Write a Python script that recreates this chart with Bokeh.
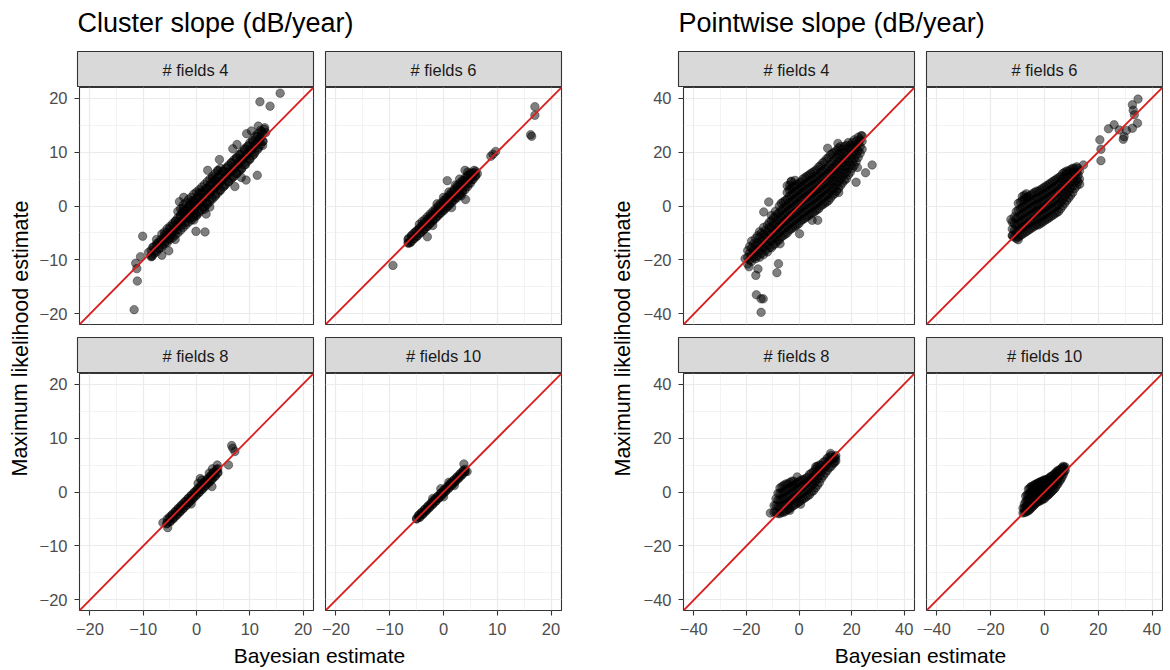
from bokeh.plotting import figure
from bokeh.layouts import row, column
from bokeh.models import Range1d, FixedTicker, Slope
from bokeh.core.properties import value
from bokeh.embed import file_html
from bokeh.resources import INLINE

FONT = "Liberation Sans"

# ---------------- data ----------------
group_titles = ["Cluster slope (dB/year)", "Pointwise slope (dB/year)"]
facet_labels = ["# fields 4", "# fields 6", "# fields 8", "# fields 10"]
x_label = "Bayesian estimate"
y_label = "Maximum likelihood estimate"
cluster_ticks = [-20, -10, 0, 10, 20]
cluster_minor = [-15, -5, 5, 15]
pointwise_ticks = [-40, -20, 0, 20, 40]
pointwise_minor = [-30, -10, 10, 30]
cluster_limit = 21.95
pointwise_limit = 43.9

# Cluster slope, # fields 4 (individual points + dense core by column x: [y...])
L1_pts = [(-9.0,-8.6),(-8.5,-9.2),(-8.2,-7.6),(-7.8,-8.3),(-7.4,-6.9),(-7.0,-7.8),(-6.7,-6.2),(-6.4,-7.2),
          (-6.0,-5.4),(-5.8,-6.6),(-5.5,-4.9),(-5.2,-6.0),(-5.0,-4.2),(-4.7,-5.5),(-4.4,-3.6),(-4.2,-4.8),
          (-3.9,-2.8),(-3.6,-4.4),(-3.4,-3.0),(-3.0,-1.8),(-2.8,-3.6),(-2.5,-2.2),(-2.2,-0.9),(-2.0,-3.0),
          (-1.7,-1.2),(-1.4,0.2),(-1.2,-2.2),(-0.9,-0.5),(-0.6,1.0),(-0.4,-1.6),(-0.1,0.3),(0.2,1.8),
          (0.4,-1.0),(0.7,0.9),(1.0,2.6),(1.2,-0.2),(1.5,1.6),(1.8,3.2),(2.0,0.6),(2.3,2.4),(2.6,4.0),
          (2.8,1.4),(3.1,3.2),(3.4,4.8),(3.6,2.1),(3.9,4.0),(4.2,5.6),(4.4,2.9),(4.7,4.7),(5.0,6.4),
          (5.2,3.7),(5.5,5.5),(5.8,7.2),(6.0,4.5),(6.3,6.3),(6.6,8.0),(6.8,5.3),(7.1,7.0),(7.4,8.8),
          (7.6,6.0),(7.9,7.8),(8.2,9.6),(8.4,6.8),(8.7,8.6),(9.0,10.4),(9.2,7.7),(9.5,9.4),(9.8,11.2),
          (10.0,8.6),(10.3,10.3),(10.6,12.0),(10.8,9.6),(11.1,11.3),(11.4,12.9),(11.6,10.8),(11.9,12.5),
          (12.2,13.8),(12.4,12.0),(12.7,14.2),(13.0,13.6),(-1.0,0.8),(0.0,-1.8),(0.5,2.4),(1.5,-0.6),
          (-2.5,-0.4),(3.0,5.2),(-0.5,-2.6),(2.5,-0.2),(-2.4,1.6),(-3.2,0.8),(4.0,6.5),(-4.0,-6.2),
          (15.7,20.9),(11.9,19.3),(13.8,18.5),(-11.7,-19.2),(-11.1,-13.9),(-11.2,-11.6),(-11.4,-10.6),
          (-10.5,-9.4),(-10.1,-5.6),(-0.1,-4.7),(1.6,-4.8),(11.4,5.7),(9.3,4.8),(8.4,5.3),(7.2,3.6),
          (4.3,8.6),(2.1,6.6),(12.4,11.2),(7.6,11.4),(6.8,10.6),(12.8,14.5),(11.6,14.8),(10.3,13.9),
          (9.4,13.4),(1.8,-1.5),(-2.7,-1.1),(-6.5,-9.1),(-5.2,-8.3),(-8.3,-9.3)]
L1_core = {-8.5: [-9.4, -8.2], -7.5: [-8.5, -7.2, -6.2], -6.5: [-7.6, -6.4, -5.2], -5.5: [-6.8, -5.5, -4.2],
           -4.5: [-5.9, -4.6, -3.3], -3.5: [-5.0, -3.6, -2.2, -1.0], -2.5: [-4.0, -2.6, -1.2, 0.2],
           -1.5: [-3.0, -1.6, -0.2, 1.2], -0.5: [-2.1, -0.6, 0.8, 2.2], 0.5: [-1.2, 0.4, 1.8, 3.0],
           1.5: [-0.2, 1.4, 2.8, 4.0], 2.5: [0.8, 2.4, 3.8, 5.0], 3.5: [1.8, 3.4, 4.8, 6.0],
           4.5: [2.9, 4.4, 5.8, 7.0], 5.5: [4.0, 5.5, 7.0], 6.5: [5.0, 6.6, 8.0], 7.5: [6.0, 7.6, 9.0],
           8.5: [7.0, 8.6, 10.0], 9.5: [8.2, 9.7, 11.0], 10.5: [9.3, 10.8, 12.2], 11.5: [10.5, 12.0, 13.4],
           12.5: [12.0, 13.4]}
L1_core_b = {-8: [-8.8, -7.6], -7: [-7.9, -6.7], -6: [-7.0, -5.8, -4.8], -5: [-6.2, -5.0, -3.8],
             -4: [-5.4, -4.1, -2.8], -3: [-4.5, -3.1, -1.7, -0.5], -2: [-3.5, -2.1, -0.7, 0.6],
             -1: [-2.6, -1.1, 0.3, 1.6], 0: [-1.6, -0.1, 1.3, 2.6], 1: [-0.7, 0.9, 2.3, 3.5],
             2: [0.3, 1.9, 3.3, 4.5], 3: [1.3, 2.9, 4.3, 5.5], 4: [2.4, 3.9, 5.3, 6.6],
             5: [3.5, 5.0, 6.5], 6: [4.5, 6.1, 7.5], 7: [5.5, 7.1, 8.5], 8: [6.5, 8.1, 9.5],
             9: [7.6, 9.2, 10.6], 10: [8.8, 10.3, 11.7], 11: [10.0, 11.5, 12.9], 12: [11.3, 12.7, 14.0]}

# Cluster slope, # fields 6
L2_pts = [(-6.6,-6.2),(-6.2,-6.8),(-5.9,-5.4),(-5.5,-6.1),(-5.2,-4.8),(-4.9,-5.6),(-4.6,-4.2),(-4.3,-5.0),
          (-4.0,-3.6),(-3.7,-4.4),(-3.4,-3.0),(-3.1,-3.8),(-2.8,-2.3),(-2.5,-3.2),(-2.2,-1.7),(-1.9,-2.6),
          (-1.6,-1.0),(-1.3,-2.0),(-1.0,-0.4),(-0.7,-1.4),(-0.4,0.2),(-0.1,-0.8),(0.2,0.9),(0.5,-0.2),
          (0.8,1.5),(1.1,0.4),(1.4,2.1),(1.7,1.0),(2.0,2.8),(2.3,1.6),(2.6,3.4),(2.9,2.2),(3.2,4.0),
          (3.5,2.8),(3.8,4.7),(4.1,3.5),(4.4,5.3),(4.7,4.2),(5.0,5.8),(5.3,4.9),(5.6,6.2),(5.9,5.5),
          (3.0,5.0),(4.5,6.3),(2.2,3.9),(1.0,2.6),(0.0,1.6),(-1.2,0.4),(1.5,-0.3),(3.3,1.9),(-2.0,-3.6),
          (17.0,18.4),(17.0,16.8),(16.2,13.2),(16.4,12.9),(9.7,10.1),(8.8,9.2),(9.2,9.6),(-9.4,-11.0),
          (-3.0,-5.7),(0.7,4.7),(4.1,1.2),(4.0,6.6),(5.7,6.6),(6.3,6.0),(-6.6,-6.8)]
L2_core = {-6: [-6.6, -5.6], -5: [-5.6, -4.6], -4: [-4.7, -3.7, -2.9], -3: [-3.8, -2.8, -2.0],
           -2: [-2.8, -1.8, -1.0], -1: [-1.8, -0.8, 0.0], 0: [-0.9, 0.1, 1.0], 1: [0.1, 1.1, 2.0],
           2: [1.1, 2.1, 3.1], 3: [2.0, 3.1, 4.2], 4: [3.0, 4.1, 5.2], 5: [4.2, 5.2, 6.1], 6: [5.6, 6.4]}
L2_core_b = {-6.5: [-6.9, -6.0], -5.5: [-6.0, -5.0], -4.5: [-5.1, -4.2, -3.4], -3.5: [-4.2, -3.3, -2.5],
             -2.5: [-3.3, -2.3, -1.5], -1.5: [-2.3, -1.3, -0.5], -0.5: [-1.3, -0.4, 0.5],
             0.5: [-0.4, 0.6, 1.5], 1.5: [0.6, 1.6, 2.6], 2.5: [1.5, 2.6, 3.7], 3.5: [2.5, 3.6, 4.7],
             4.5: [3.6, 4.7, 5.7], 5.5: [4.9, 5.9]}

# Cluster slope, # fields 8
L3_pts = [(-5.6,-5.9),(-5.2,-5.0),(-4.9,-5.5),(-4.6,-4.2),(-4.3,-4.9),(-4.0,-3.6),(-3.7,-4.3),(-3.4,-3.0),
          (-3.1,-3.7),(-2.8,-2.4),(-2.5,-3.1),(-2.2,-1.8),(-1.9,-2.5),(-1.6,-1.2),(-1.3,-1.9),(-1.0,-0.6),
          (-0.7,-1.3),(-0.4,0.0),(-0.1,-0.7),(0.2,0.6),(0.5,-0.1),(0.8,1.2),(1.1,0.5),(1.4,1.8),(1.7,1.1),
          (2.0,2.4),(2.3,1.7),(2.6,3.0),(2.9,2.3),(3.2,3.6),(3.5,2.9),(3.8,4.2),(4.0,3.5),(0.3,1.6),
          (1.0,2.2),(-1.0,-2.2),(2.4,3.5),(3.0,4.3),
          (6.6,8.6),(6.8,8.1),(7.2,7.5),(6.0,5.0),(3.9,5.0),(-6.3,-5.7),(-5.4,-6.6),(2.9,1.0),(0.7,2.5)]
L3_core = {-5.5: [-5.8, -5.0], -4.5: [-5.0, -4.2], -3.5: [-4.0, -3.2], -2.5: [-3.0, -2.2],
           -1.5: [-2.0, -1.2], -0.5: [-1.0, -0.2], 0.5: [0.0, 0.8], 1.5: [1.0, 1.8], 2.5: [2.0, 2.8],
           3.5: [3.0, 3.8]}
L3_core_b = {-5: [-5.4, -4.6], -4: [-4.5, -3.7], -3: [-3.5, -2.7], -2: [-2.5, -1.7], -1: [-1.5, -0.7],
             0: [-0.5, 0.3], 1: [0.5, 1.3], 2: [1.5, 2.3], 3: [2.5, 3.3], 4: [3.6, 4.3]}

# Cluster slope, # fields 10
L4_pts = [(-5.0,-5.0),(-4.7,-4.4),(-4.4,-4.7),(-4.1,-3.8),(-3.8,-4.1),(-3.5,-3.2),(-3.2,-3.5),(-2.9,-2.6),
          (-2.6,-2.9),(-2.3,-2.0),(-2.0,-2.3),(-1.7,-1.4),(-1.4,-1.7),(-1.1,-0.8),(-0.8,-1.1),(-0.5,-0.2),
          (-0.2,-0.5),(0.1,0.4),(0.4,0.1),(0.7,1.0),(1.0,0.7),(1.3,1.6),(1.6,1.3),(1.9,2.2),(2.2,1.9),
          (2.5,2.8),(2.8,2.5),(3.1,3.4),(3.4,3.1),(3.7,4.0),(4.0,3.7),(-2.0,-1.2),(-0.5,0.6),(1.0,1.8),
          (0.0,-0.9),(2.0,1.2),(3.8,5.2),(4.4,3.8),(-5.0,-4.9)]
L4_core = {-4.5: [-4.6, -4.2], -3.5: [-3.7, -3.3], -2.5: [-2.7, -2.3], -1.5: [-1.7, -1.3],
           -0.5: [-0.7, -0.3], 0.5: [0.3, 0.7], 1.5: [1.3, 1.7], 2.5: [2.3, 2.7], 3.5: [3.3, 3.7]}
L4_core_b = {-4: [-4.2, -3.8], -3: [-3.2, -2.8], -2: [-2.2, -1.8], -1: [-1.2, -0.8], 0: [-0.2, 0.2],
             1: [0.8, 1.2], 2: [1.8, 2.2], 3: [2.8, 3.2], 4: [3.8, 4.2]}

# Pointwise slope, # fields 4 (two interleaved column sets + outliers)
R1_core = {-19.5: [-21.5, -19, -16.5], -18: [-20.5, -18, -15.5, -13], -16.5: [-19.5, -17, -14.5, -12],
           -15: [-19, -16.5, -14, -11.5, -9.5], -13.5: [-18, -15.5, -13, -10.5, -8],
           -12: [-17, -14.5, -12, -9.5, -7], -10.5: [-15.5, -13, -10.5, -8, -5.5, -3.5],
           -9: [-14, -11.5, -9, -6.5, -4, -2], -7.5: [-12.5, -10, -7.5, -5, -2.5, 0],
           -6: [-11, -8.5, -6, -3.5, -1, 1.5], -4.5: [-10, -7.5, -5, -2.5, 0, 2.5, 5, 7.5],
           -3: [-8.5, -6, -3.5, -1, 1.5, 4, 6.5, 9], -1.5: [-7.5, -5, -2.5, 0, 2.5, 5, 7.5, 9.5],
           0: [-6.5, -4, -1.5, 1, 3.5, 6, 8.5], 1.5: [-5, -2.5, 0, 2.5, 5, 7.5, 10],
           3: [-4, -1.5, 1, 3.5, 6, 8.5, 11], 4.5: [-3, -0.5, 2, 4.5, 7, 9.5, 12],
           6: [-2, 0.5, 3, 5.5, 8, 10.5, 13], 7.5: [-1, 1.5, 4, 6.5, 9, 11.5, 14.5],
           9: [0.5, 3, 5.5, 8, 10.5, 13, 16], 10.5: [1.5, 4, 6.5, 9, 11.5, 14, 17.5],
           12: [3, 5.5, 8, 10.5, 13, 15.5, 19], 13.5: [4.5, 7, 9.5, 12, 14.5, 17, 20],
           15: [6.5, 9, 11.5, 14, 16.5, 19, 21.5], 16.5: [8.5, 11, 13.5, 16, 18.5, 21],
           18: [10, 12.5, 15, 17.5, 20, 22.5], 19.5: [12.5, 15, 17.5, 20, 22.5],
           21: [15, 17.5, 20, 22.5, 24.5], 22.5: [18, 20.5, 23, 25.5], 24: [21, 24, 26]}
R1_core_b = {-18.75: [-20, -17.5, -15], -17.25: [-19, -16.5, -14], -15.75: [-18.5, -16, -13.5, -11],
             -14.25: [-17.5, -15, -12.5, -10], -12.75: [-16.5, -14, -11.5, -9],
             -11.25: [-15.5, -13, -10.5, -8, -6], -9.75: [-14.5, -12, -9.5, -7, -4.5],
             -8.25: [-13, -10.5, -8, -5.5, -3], -6.75: [-11.5, -9, -6.5, -4, -1.5, 1],
             -5.25: [-10.5, -8, -5.5, -3, -0.5, 2], -3.75: [-9, -6.5, -4, -1.5, 1, 3.5, 6],
             -2.25: [-8, -5.5, -3, -0.5, 2, 4.5, 7], -0.75: [-7, -4.5, -2, 0.5, 3, 5.5, 8],
             0.75: [-5.5, -3, -0.5, 2, 4.5, 7, 9], 2.25: [-4.5, -2, 0.5, 3, 5.5, 8, 10.5],
             3.75: [-3.5, -1, 1.5, 4, 6.5, 9, 11.5], 5.25: [-2.5, 0, 2.5, 5, 7.5, 10, 12.5],
             6.75: [-1.5, 1, 3.5, 6, 8.5, 11, 13.5], 8.25: [0, 2.5, 5, 7.5, 10, 12.5, 15],
             9.75: [1, 3.5, 6, 8.5, 11, 13.5, 16.5], 11.25: [2, 4.5, 7, 9.5, 12, 14.5, 18],
             12.75: [4, 6.5, 9, 11.5, 14, 16.5, 19.5], 14.25: [5.5, 8, 10.5, 13, 15.5, 18, 20.5],
             15.75: [7.5, 10, 12.5, 15, 17.5, 20, 22], 17.25: [9.5, 12, 14.5, 17, 19.5, 22],
             18.75: [11.5, 14, 16.5, 19, 21.5, 23.5], 20.25: [14, 16.5, 19, 21.5, 23.5],
             21.75: [16.5, 19, 21.5, 24], 23.25: [19.5, 22, 24.5]}
R1_out = [(-14.4,-39.4),(-16.2,-32.9),(-14.4,-34.4),(-13.6,-34.4),(-16.4,-25.7),(-15.6,-23.3),(-8.4,-24.7),
          (-7.8,-21.4),(-13.4,-2.2),(-7.2,-14.0),(0.2,-10.3),(5.0,-5.3),(7.1,-5.3),(10.9,21.4),(14.8,23.2),
          (23.6,26.0),(27.8,15.2),(25.3,12.3),(22.2,14.3),(21.7,8.8),(15.1,5.0),(-2.9,9.2),(-3.5,7.7),
          (-11.5,1.5),(-20.5,-19.5),(-19.0,-22.5)]

# Pointwise slope, # fields 6
R2_core = {-12: [-11, -8.5, -6], -10.5: [-12, -9.5, -7, -4.5, -2], -9: [-11, -8.5, -6, -3.5, -1, 1.5],
           -7.5: [-10, -7.5, -5, -2.5, 0, 2.5, 4], -6: [-9, -6.5, -4, -1.5, 1, 3.5],
           -4.5: [-8, -5.5, -3, -0.5, 2, 4.5], -3: [-7, -4.5, -2, 0.5, 3, 5.5],
           -1.5: [-6.5, -4, -1.5, 1, 3.5, 6], 0: [-5.5, -3, -0.5, 2, 4.5, 7],
           1.5: [-4.5, -2, 0.5, 3, 5.5, 8], 3: [-3.5, -1, 1.5, 4, 6.5, 9],
           4.5: [-2.5, 0, 2.5, 5, 7.5, 10], 6: [-1, 1.5, 4, 6.5, 9, 11],
           7.5: [1, 3.5, 6, 8.5, 11, 12.5], 9: [3, 5.5, 8, 10.5, 13], 10.5: [5, 7.5, 10, 12.5, 14],
           12: [7.5, 10, 12.5, 14.5], 13: [10, 13]}
R2_core_b = {-11.25: [-11.5, -9, -6.5, -4], -9.75: [-11.5, -9, -6.5, -4, -1.5, 1],
             -8.25: [-10.5, -8, -5.5, -3, -0.5, 2, 3.5], -6.75: [-9.5, -7, -4.5, -2, 0.5, 3, 4.5],
             -5.25: [-8.5, -6, -3.5, -1, 1.5, 4], -3.75: [-7.5, -5, -2.5, 0, 2.5, 5],
             -2.25: [-7, -4.5, -2, 0.5, 3, 5.5], -0.75: [-6, -3.5, -1, 1.5, 4, 6.5],
             0.75: [-5, -2.5, 0, 2.5, 5, 7.5], 2.25: [-4, -1.5, 1, 3.5, 6, 8.5],
             3.75: [-3, -0.5, 2, 4.5, 7, 9.5], 5.25: [-2, 0.5, 3, 5.5, 8, 10.5],
             6.75: [0, 2.5, 5, 7.5, 10, 12], 8.25: [2, 4.5, 7, 9.5, 12, 13],
             9.75: [4, 6.5, 9, 11.5, 13.5], 11.25: [6.5, 9, 11.5, 14], 12.5: [9, 11.5, 14]}
R2_out = [(34.8,39.6),(32.7,37.5),(33.4,33.8),(34.6,30.7),(32.7,28.8),(29.6,25.7),(29.3,24.7),(33.0,35.5),
          (23.8,28.6),(25.9,30.1),(27.8,28.2),(30.5,28.0),(20.6,24.5),(21.0,21.0),(21.0,16.8),(14.5,15.2),
          (13.1,8.1),(-6.6,3.2),(-12.5,-5.0),(-11.9,-10.9),(-9.8,-12.5)]

# Pointwise slope, # fields 8
R3_core = {-9.5: [-7.5, -5], -8: [-8, -5.5, -3, -0.5], -6.5: [-7.5, -5, -2.5, 0, 2],
           -5: [-7, -4.5, -2, 0.5, 3], -3.5: [-6, -3.5, -1, 1.5, 3.5], -2: [-5, -2.5, 0, 2.5, 4],
           -0.5: [-4, -1.5, 1, 3.5], 1: [-3, -0.5, 2, 4.5], 2.5: [-2, 0.5, 3, 5],
           4: [-1, 1.5, 4, 6.5], 5.5: [0.5, 3, 5.5, 7.5], 7: [2.5, 5, 7.5, 9.5],
           8.5: [5, 7.5, 10], 10: [7, 9.5, 11.5], 11.5: [9, 11.5, 13], 13: [10.5, 12.5], 14: [11.5, 13.5]}
R3_core_b = {-8.75: [-7.5, -5, -2.5], -7.25: [-8, -5.5, -3, -0.5, 1.5], -5.75: [-7.5, -5, -2.5, 0, 2.5],
             -4.25: [-6.5, -4, -1.5, 1, 3], -2.75: [-5.5, -3, -0.5, 2, 4], -1.25: [-4.5, -2, 0.5, 3],
             0.25: [-3.5, -1, 1.5, 4], 1.75: [-2.5, 0, 2.5, 4.5], 3.25: [-1.5, 1, 3.5, 5.5],
             4.75: [0, 2.5, 5, 7], 6.25: [1.5, 4, 6.5, 8.5], 7.75: [3.5, 6, 8.5, 10],
             9.25: [6, 8.5, 11], 10.75: [8, 10.5, 12.5], 12.25: [9.5, 12, 13.5], 13.5: [11, 13]}
R3_out = [(12.0,14.3),(13.9,12.5),(-10.9,-7.8),(-0.7,5.6),(6.4,9.4),(0.6,-4.5),(-3.5,-6.8)]

# Pointwise slope, # fields 10
R4_core = {-8: [-7.8, -6], -7: [-7.5, -5.5, -3.5, -1.5], -6: [-7, -5, -3, -1, 1],
           -5: [-6, -4, -2, 0, 2], -4: [-5, -3, -1, 1, 2.5], -3: [-4, -2, 0, 2, 3],
           -2: [-3.5, -1.5, 0.5, 2.5, 3.5], -1: [-3, -1, 1, 3, 4], 0: [-2.5, -0.5, 1.5, 3.5, 4.5],
           1: [-1.5, 0.5, 2.5, 4.5], 2: [-0.5, 1.5, 3.5, 5.5], 3: [0.5, 2.5, 4.5, 6],
           4: [1.5, 3.5, 5.5, 7], 5: [3, 5, 7, 8], 6: [4.5, 6.5, 8.5], 7: [6.5, 8.5, 9.5], 7.7: [8, 9.3]}
R4_core_b = {-7.5: [-7.5, -6, -4.5], -6.5: [-7, -5, -3, -1], -5.5: [-6.5, -4.5, -2.5, -0.5, 1.5],
             -4.5: [-5.5, -3.5, -1.5, 0.5, 2], -3.5: [-4.5, -2.5, -0.5, 1.5, 2.8],
             -2.5: [-3.5, -1.5, 0.5, 2.5, 3.3], -1.5: [-3, -1, 1, 3, 3.8], -0.5: [-2.5, -0.5, 1.5, 3.5, 4.2],
             0.5: [-1.5, 0.5, 2.5, 4.5], 1.5: [-1, 1, 3, 5], 2.5: [0, 2, 4, 5.8], 3.5: [1, 3, 5, 6.5],
             4.5: [2.5, 4.5, 6.5, 7.5], 5.5: [4, 6, 8], 6.5: [5.5, 7.5, 9], 7.3: [7.5, 9]}


def from_cols(pairs, *col_sets):
    pts = list(pairs)
    for cols in col_sets:
        pts += [(x, y) for x, ys in cols.items() for y in ys]
    return pts


L1_all = from_cols(L1_pts, L1_core, L1_core_b)
L2_all = from_cols(L2_pts, L2_core, L2_core_b)
L3_all = from_cols(L3_pts, L3_core, L3_core_b)
L4_all = from_cols(L4_pts, L4_core, L4_core_b)
R1_all = from_cols(R1_out, R1_core, R1_core_b)
R2_all = from_cols(R2_out, R2_core, R2_core_b)
R3_all = from_cols(R3_out, R3_core, R3_core_b)
R4_all = from_cols([], R4_core, R4_core_b)

# ---------------- layout constants ----------------
FW, FH = 236, 237
SH = 36
TITLE_H = 51
XLAB_H = 24
ROW1_BB = 13
ROW2_BB = 34
TOTAL_H = TITLE_H + SH + FH + ROW1_BB + SH + FH + ROW2_BB + XLAB_H
TICK_FS = "16.5px"


def blank_fig(w, h):
    p = figure(width=w, height=h, x_range=Range1d(0, w), y_range=Range1d(0, h),
               output_backend="svg", toolbar_location=None, min_border=0,
               x_axis_type=None, y_axis_type=None)
    p.outline_line_color = None
    p.background_fill_color = "white"
    p.border_fill_color = "white"
    return p


def strip_fig(label, bl, br):
    p = figure(width=bl + FW + br, height=SH, x_range=Range1d(0, 1), y_range=Range1d(0, 1),
               output_backend="svg", toolbar_location=None,
               min_border_left=bl, min_border_right=br, min_border_top=0, min_border_bottom=0,
               x_axis_type=None, y_axis_type=None)
    p.background_fill_color = "#d9d9d9"
    p.border_fill_color = "white"
    p.outline_line_color = "#333333"
    p.outline_line_width = 1.1
    p.text(x=[0.5], y=[0.5], text=[label], text_font=value(FONT), text_font_size=value("16.5px"),
           text_align="center", text_baseline="middle", text_color="#1a1a1a")
    return p


def panel_fig(pts, lim, ticks, minor, bl, br, bb, show_x, show_y):
    p = figure(width=bl + FW + br, height=FH + bb, x_range=Range1d(-lim, lim), y_range=Range1d(-lim, lim),
               output_backend="svg", toolbar_location=None,
               min_border_left=bl, min_border_right=br, min_border_top=0, min_border_bottom=bb)
    p.background_fill_color = "white"
    p.border_fill_color = "white"
    p.outline_line_color = "#333333"
    p.outline_line_width = 1.1
    for ax in (p.xaxis[0], p.yaxis[0]):
        ax.ticker = FixedTicker(ticks=ticks, minor_ticks=minor)
        ax.axis_line_color = None
        ax.major_tick_line_color = "#333333"
        ax.major_tick_line_width = 1.1
        ax.major_tick_out = 5
        ax.major_tick_in = 0
        ax.minor_tick_line_color = None
        ax.major_label_text_font = FONT
        ax.major_label_text_font_size = TICK_FS
        ax.major_label_text_color = "#4d4d4d"
    p.xaxis.major_label_standoff = 7
    p.yaxis.major_label_standoff = 7
    p.xaxis.visible = show_x
    p.yaxis.visible = show_y
    for g in (p.xgrid[0], p.ygrid[0]):
        g.grid_line_color = "#ebebeb"
        g.grid_line_width = 1.2
        g.minor_grid_line_color = "#ebebeb"
        g.minor_grid_line_width = 0.6
    xs = [a for a, b in pts]
    ys = [b for a, b in pts]
    p.scatter(xs, ys, size=8.5, fill_color="black", fill_alpha=0.5,
              line_color="black", line_alpha=0.6, line_width=0.6)
    p.add_layout(Slope(gradient=1, y_intercept=0, line_color="#d81e1e", line_width=1.9))
    return p


def group(title, panels_pts, lim, ticks, minor, bl, br_right, ylab_w, ylab_x):
    w1 = bl + FW + 6
    w2 = 6 + FW + br_right
    col_w = w1 + w2
    t = blank_fig(col_w, TITLE_H)
    t.text(x=[bl], y=[TITLE_H - 22], text=[title], text_font=value(FONT),
           text_font_size=value("27px"), text_align="left", text_baseline="middle", text_color="black")
    s1 = strip_fig(facet_labels[0], bl, 6)
    s2 = strip_fig(facet_labels[1], 6, br_right)
    p1 = panel_fig(panels_pts[0], lim, ticks, minor, bl, 6, ROW1_BB, False, True)
    p2 = panel_fig(panels_pts[1], lim, ticks, minor, 6, br_right, ROW1_BB, False, False)
    s3 = strip_fig(facet_labels[2], bl, 6)
    s4 = strip_fig(facet_labels[3], 6, br_right)
    p3 = panel_fig(panels_pts[2], lim, ticks, minor, bl, 6, ROW2_BB, True, True)
    p4 = panel_fig(panels_pts[3], lim, ticks, minor, 6, br_right, ROW2_BB, True, False)
    xl = blank_fig(col_w, XLAB_H)
    center = (bl + w1 + 6 + FW) / 2.0
    xl.text(x=[center], y=[XLAB_H - 11], text=[x_label], text_font=value(FONT),
            text_font_size=value("21px"), text_align="center", text_baseline="middle", text_color="black")
    col = column(t, row(s1, s2), row(p1, p2), row(s3, s4), row(p3, p4), xl)
    yl = blank_fig(ylab_w, TOTAL_H)
    yl.text(x=[ylab_x], y=[TOTAL_H - 338], text=[y_label], text_font=value(FONT),
            text_font_size=value("21.5px"), angle=1.5707963, text_align="center",
            text_baseline="middle", text_color="black")
    return row(yl, col)


left = group(group_titles[0], [L1_all, L2_all, L3_all, L4_all], cluster_limit,
             cluster_ticks, cluster_minor, 41, 45, 36, 20)
right = group(group_titles[1], [R1_all, R2_all, R3_all, R4_all], pointwise_limit,
              pointwise_ticks, pointwise_minor, 38, 1, 34, 16)
page = row(left, right)

open("out.html", "w").write(file_html(page, INLINE))
